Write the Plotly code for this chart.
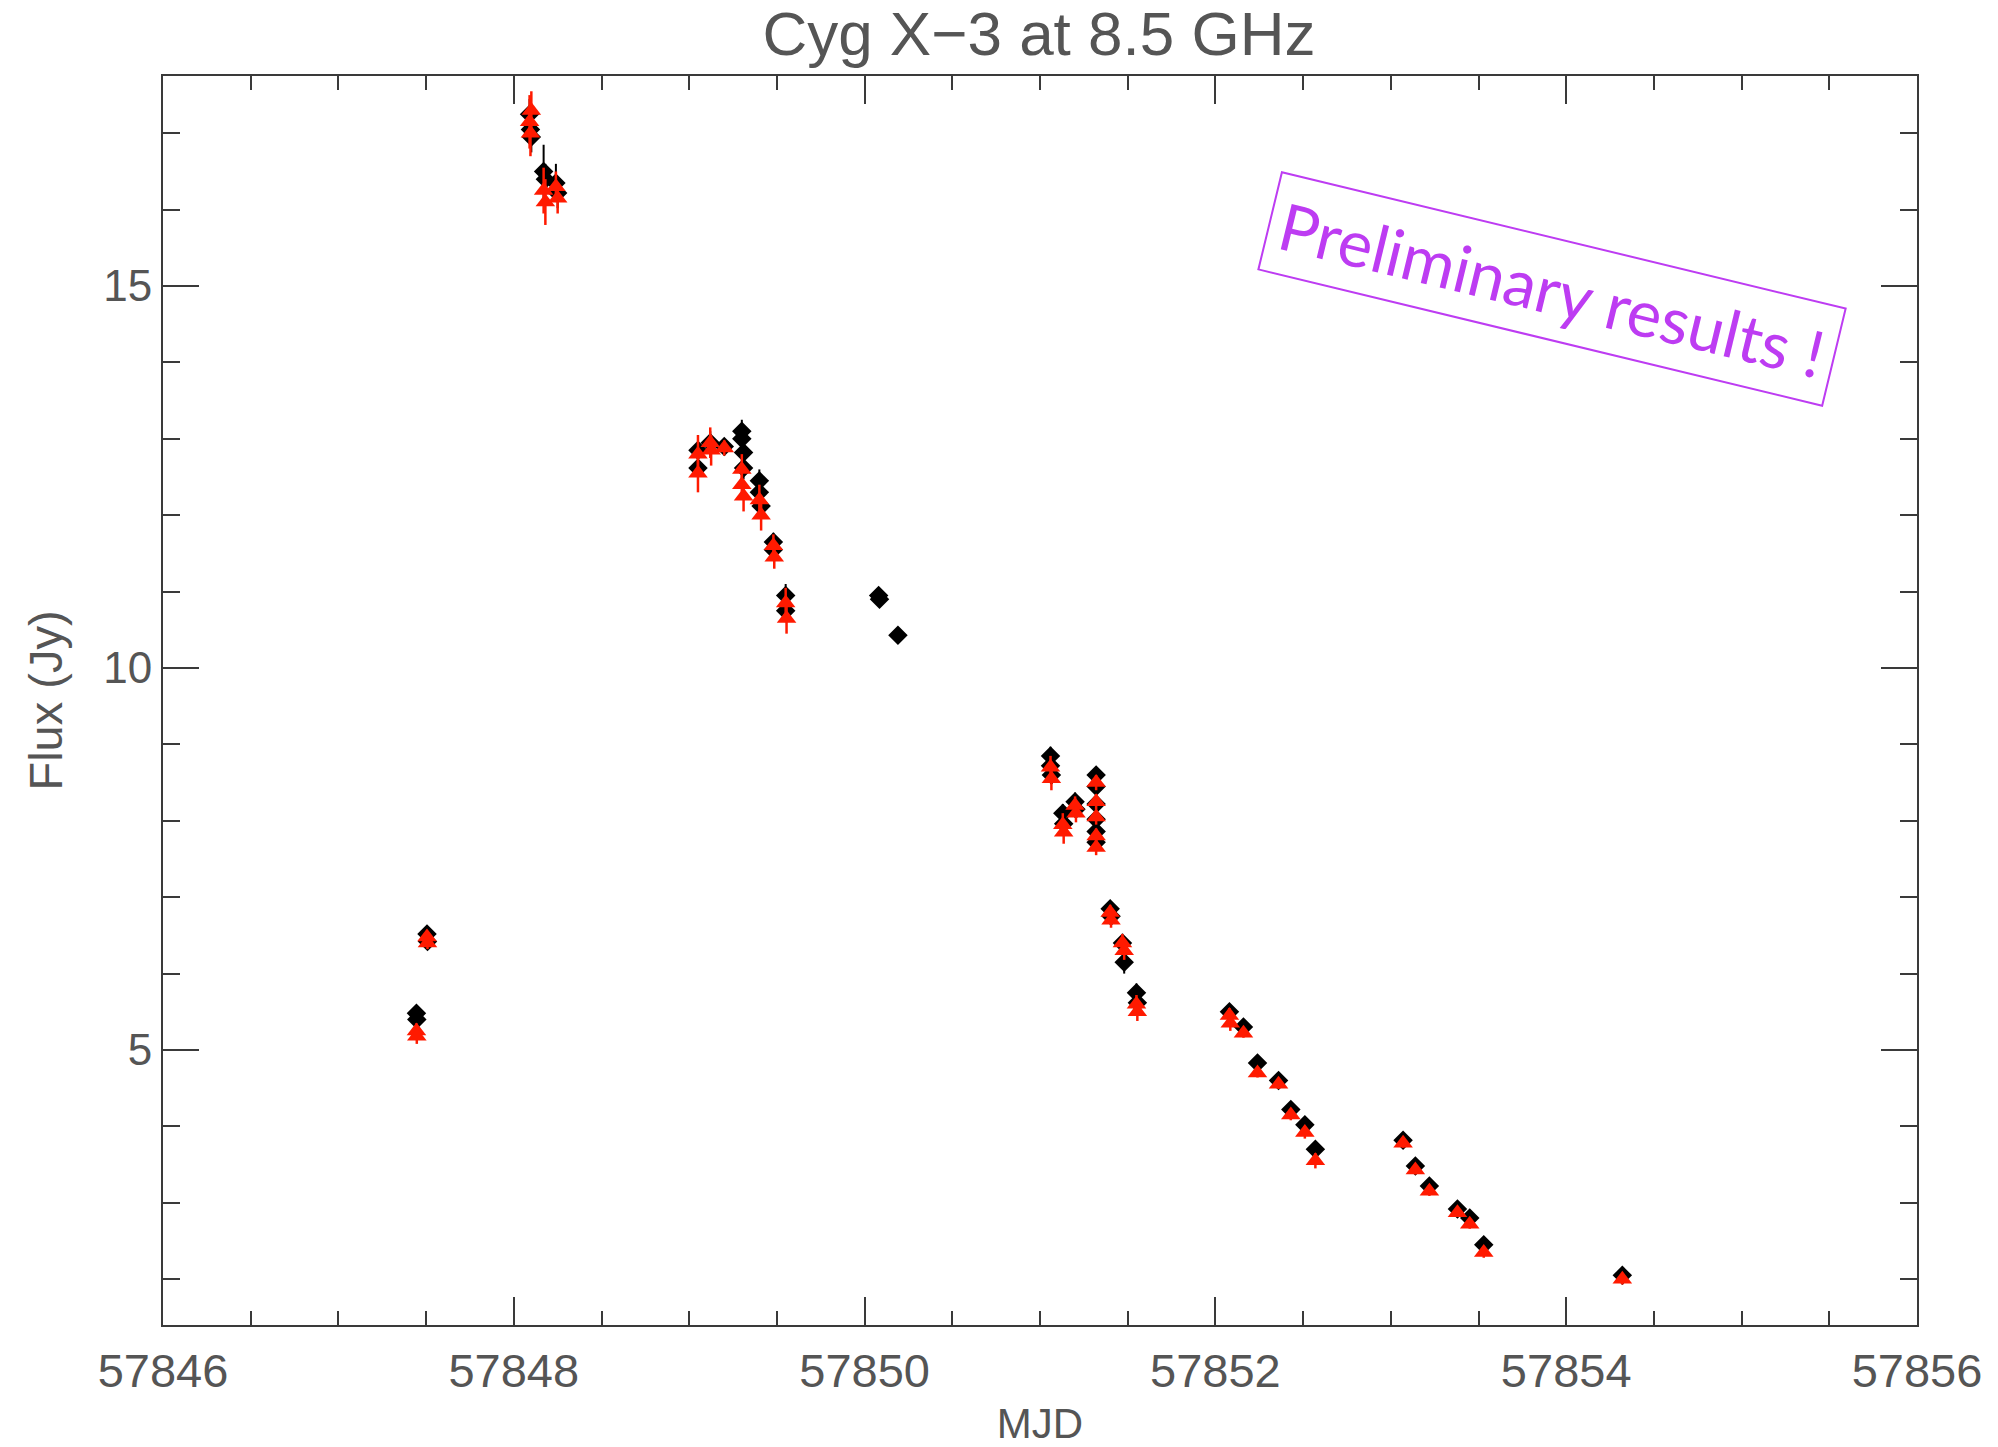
import plotly.graph_objects as go

# Cyg X-3 radio flare light curve at 8.5 GHz, two reductions of the same scans

# first reduction (black diamonds)
mjd_black = [57847.445, 57847.447, 57847.505, 57847.508,
             57848.09, 57848.095, 57848.10,
             57848.17, 57848.18, 57848.24, 57848.25,
             57849.05, 57849.05, 57849.12, 57849.20,
             57849.30, 57849.30, 57849.31, 57849.31,
             57849.40, 57849.40, 57849.41,
             57849.48, 57849.48, 57849.55, 57849.55,
             57850.08, 57850.085, 57850.19,
             57851.06, 57851.06, 57851.065,
             57851.13, 57851.135, 57851.20, 57851.205,
             57851.32, 57851.32, 57851.32, 57851.32, 57851.32, 57851.32,
             57851.40, 57851.405, 57851.47, 57851.48, 57851.55, 57851.555,
             57852.08, 57852.16, 57852.24, 57852.36, 57852.43, 57852.51, 57852.57,
             57853.07, 57853.14, 57853.22, 57853.38, 57853.45, 57853.53,
             57854.32]
flux_black = [5.48, 5.40, 6.52, 6.42,
              17.25, 17.05, 16.95,
              16.50, 16.40, 16.35, 16.22,
              12.85, 12.62, 12.95, 12.90,
              13.10, 13.00, 12.82, 12.62,
              12.45, 12.30, 12.12,
              11.65, 11.55, 10.95, 10.75,
              10.95, 10.90, 10.43,
              8.85, 8.72, 8.60,
              8.10, 7.96, 8.25, 8.15,
              8.60, 8.45, 8.22, 8.02, 7.86, 7.72,
              6.85, 6.75, 6.40, 6.15, 5.75, 5.62,
              5.50, 5.30, 4.83, 4.60, 4.22, 4.02, 3.70,
              3.82, 3.48, 3.22, 2.92, 2.80, 2.45,
              2.05]
err_black = [0.08, 0.08, 0.06, 0.06,
             0.20, 0.20, 0.20,
             0.35, 0.20, 0.25, 0.20,
             0.20, 0.20, 0.15, 0.10,
             0.15, 0.15, 0.15, 0.15,
             0.15, 0.15, 0.15,
             0.12, 0.12, 0.15, 0.15,
             0.05, 0.05, 0.04,
             0.12, 0.12, 0.12,
             0.12, 0.12, 0.12, 0.12,
             0.10, 0.10, 0.10, 0.10, 0.10, 0.10,
             0.10, 0.10, 0.10, 0.15, 0.12, 0.12,
             0.08, 0.06, 0.05, 0.06, 0.07, 0.08, 0.08,
             0.06, 0.06, 0.06, 0.05, 0.06, 0.07,
             0.05]

# second reduction (red triangles)
mjd_red = [57847.445, 57847.447, 57847.505, 57847.508,
           57848.09, 57848.095, 57848.10,
           57848.17, 57848.18, 57848.24, 57848.25,
           57849.05, 57849.05, 57849.12, 57849.125, 57849.20,
           57849.30, 57849.30, 57849.31,
           57849.40, 57849.41,
           57849.48, 57849.485, 57849.55, 57849.555,
           57851.06, 57851.065,
           57851.13, 57851.135, 57851.20, 57851.205,
           57851.32, 57851.32, 57851.32, 57851.32, 57851.32,
           57851.40, 57851.405, 57851.47, 57851.48, 57851.55, 57851.555,
           57852.08, 57852.085, 57852.16, 57852.24, 57852.36, 57852.43, 57852.51, 57852.57,
           57853.07, 57853.14, 57853.22, 57853.38, 57853.45, 57853.53,
           57854.32]
flux_red = [5.25, 5.18, 6.48, 6.40,
            17.15, 17.00, 17.30,
            16.25, 16.10, 16.30, 16.15,
            12.80, 12.55, 12.95, 12.85, 12.88,
            12.60, 12.40, 12.25,
            12.20, 12.00,
            11.60, 11.45, 10.85, 10.65,
            8.70, 8.55,
            7.95, 7.85, 8.20, 8.10,
            8.50, 8.25, 8.05, 7.80, 7.65,
            6.80, 6.70, 6.40, 6.30, 5.60, 5.50,
            5.45, 5.35, 5.22, 4.70, 4.55, 4.15, 3.92, 3.55,
            3.78, 3.43, 3.15, 2.87, 2.72, 2.35,
            2.00]
err_red = [0.10, 0.10, 0.08, 0.08,
           0.35, 0.30, 0.25,
           0.30, 0.30, 0.20, 0.20,
           0.25, 0.25, 0.20, 0.20, 0.10,
           0.20, 0.20, 0.20,
           0.20, 0.20,
           0.15, 0.15, 0.20, 0.20,
           0.15, 0.15,
           0.15, 0.15, 0.12, 0.12,
           0.10, 0.10, 0.10, 0.10, 0.10,
           0.10, 0.10, 0.12, 0.12, 0.12, 0.12,
           0.10, 0.10, 0.06, 0.06, 0.06, 0.07, 0.08, 0.10,
           0.06, 0.06, 0.06, 0.05, 0.06, 0.07,
           0.07]

x_ticks = [57846, 57848, 57850, 57852, 57854, 57856]
y_ticks = [5, 10, 15]

title_text = "Cyg X\u22123 at 8.5 GHz"
stamp_text = "Preliminary results !"

text_font = "Liberation Sans, Arial, sans-serif"
text_color = "#555555"
frame_color = "#3a3a3a"
stamp_color = "#bd3cf2"
red = "#ff1a00"

fig = go.Figure()

fig.add_trace(go.Scatter(
    x=mjd_black, y=flux_black, mode="markers",
    marker=dict(symbol="diamond", size=15, color="black"),
    error_y=dict(type="data", array=err_black, color="black", thickness=2, width=0),
    showlegend=False,
))
fig.add_trace(go.Scatter(
    x=mjd_red, y=flux_red, mode="markers",
    marker=dict(symbol="triangle-up", size=17, color=red),
    error_y=dict(type="data", array=err_red, color=red, thickness=2.5, width=0),
    showlegend=False,
))

axis_common = dict(
    showline=True, linecolor=frame_color, linewidth=2, mirror="ticks",
    ticks="inside", tickcolor=frame_color, tickwidth=1.5,
    showgrid=False, zeroline=False, automargin=False,
)

fig.update_xaxes(
    range=[57846, 57856], tickvals=x_ticks, ticktext=[str(v) for v in x_ticks],
    ticklen=28,
    minor=dict(dtick=0.5, ticks="inside", ticklen=14, tickcolor=frame_color, tickwidth=1.5, showgrid=False),
    tickfont=dict(family=text_font, size=47, color=text_color),
    ticklabelstandoff=4,
    title=dict(text="MJD", font=dict(family=text_font, size=42, color=text_color), standoff=14),
    **axis_common,
)
fig.update_yaxes(
    range=[1.4, 17.75], tickvals=y_ticks, ticktext=[str(v) for v in y_ticks],
    ticklen=36,
    minor=dict(dtick=1, ticks="inside", ticklen=17, tickcolor=frame_color, tickwidth=1.5, showgrid=False),
    tickfont=dict(family=text_font, size=44, color=text_color),
    ticklabelstandoff=0,
    title=dict(text="Flux (Jy)", font=dict(family=text_font, size=47, color=text_color), standoff=26),
    **axis_common,
)

fig.add_annotation(
    x=57853.92, y=14.96, xref="x", yref="y",
    text=stamp_text, showarrow=False, textangle=13.6,
    font=dict(family="Lato, Open Sans, sans-serif", size=65, color=stamp_color),
    bordercolor=stamp_color, borderwidth=2, borderpad=10,
    xanchor="center", yanchor="middle",
)

fig.update_layout(
    width=1998, height=1447,
    margin=dict(l=163, r=81, t=76, b=122),
    paper_bgcolor="white", plot_bgcolor="white",
    title=dict(text=title_text, x=0.52, xanchor="center", y=0.977, yanchor="middle",
               font=dict(family=text_font, size=62, color=text_color)),
)

fig.write_html("out.html")
